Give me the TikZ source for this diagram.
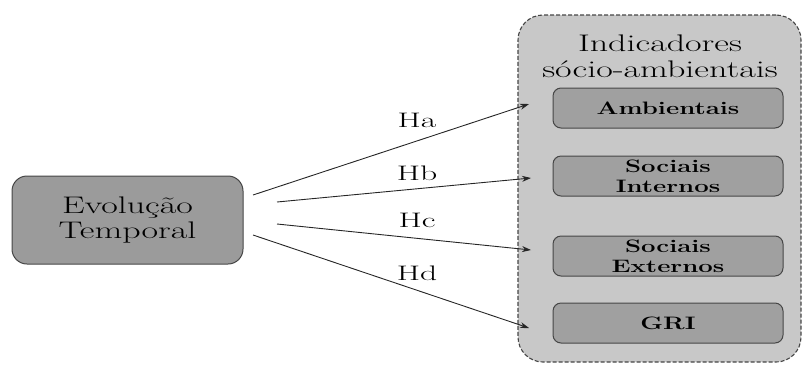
\documentclass[tikz,border=0pt]{standalone}
\usetikzlibrary{arrows.meta}
\newcommand{\rs}[1]{\scalebox{1.5}[1]{#1}}
\newcommand{\ls}[1]{\scalebox{1.6}[1]{#1}}
\newcommand{\bs}[1]{\scalebox{1.43}[1]{#1}}
\definecolor{panelgray}{RGB}{200,200,200}
\definecolor{maingray}{RGB}{155,155,155}
\definecolor{boxgray}{RGB}{160,160,160}
\definecolor{edgegray}{RGB}{70,70,70}
\tikzset{
  mainbox/.style={draw=edgegray, line width=1pt, fill=maingray, rounded corners=15pt,
    minimum width=231pt, minimum height=88pt, align=center, inner sep=0pt,
    font=\rmfamily\fontsize{24}{25}\selectfont},
  panel/.style={draw=edgegray, dash pattern=on 4pt off 2pt, line width=1.1pt, fill=panelgray,
    rounded corners=25pt, minimum width=283pt, minimum height=347pt, inner sep=0pt},
  indbox/.style={draw=edgegray, line width=1pt, fill=boxgray, rounded corners=8pt,
    minimum width=230pt, minimum height=40pt, align=center, inner sep=0pt,
    font=\rmfamily\bfseries\fontsize{18}{20}\selectfont},
  hyp/.style={-{Stealth[length=9pt,width=6pt]}, line width=0.9pt, draw=black!85},
  hlabel/.style={font=\rmfamily\fontsize{21}{24}\selectfont, anchor=base, inner sep=0pt},
  title/.style={font=\rmfamily\fontsize{24}{26}\selectfont, align=center, inner sep=0pt}
}
\begin{document}
\begin{tikzpicture}[x=1pt,y=-1pt]
\useasboundingbox (0,0) rectangle (805,365);
\node[mainbox] (evo) at (127.5,220) {\rs{Evolução}\\\rs{Temporal}};
\node[panel] (ind) at (659.5,188.5) {};
\node[title] (tit) at (660,56) {\rs{Indicadores}\\\rs{sócio-ambientais}};
\node[indbox] (amb) at (668,108) {\bs{Ambientais}};
\node[indbox] (sint) at (668,176) {\bs{Sociais}\\\bs{Internos}};
\node[indbox] (sext) at (668,256) {\bs{Sociais}\\\bs{Externos}};
\node[indbox] (gri) at (668,323) {\bs{GRI}};
\coordinate (sa) at (253,195);
\coordinate (sb) at (277,202);
\coordinate (sc) at (277,224);
\coordinate (sd) at (253,235);
\coordinate (ea) at (529,104);
\coordinate (eb) at (531,178);
\coordinate (ec) at (531,250);
\coordinate (ed) at (529,328);
\draw[hyp] (sa) -- (ea);
\draw[hyp] (sb) -- (eb);
\draw[hyp] (sc) -- (ec);
\draw[hyp] (sd) -- (ed);
\node[hlabel] (ha) at (417,127) {\ls{Ha}};
\node[hlabel] (hb) at (417,180) {\ls{Hb}};
\node[hlabel] (hc) at (417,227) {\ls{Hc}};
\node[hlabel] (hd) at (417,280) {\ls{Hd}};
\end{tikzpicture}
\end{document}
